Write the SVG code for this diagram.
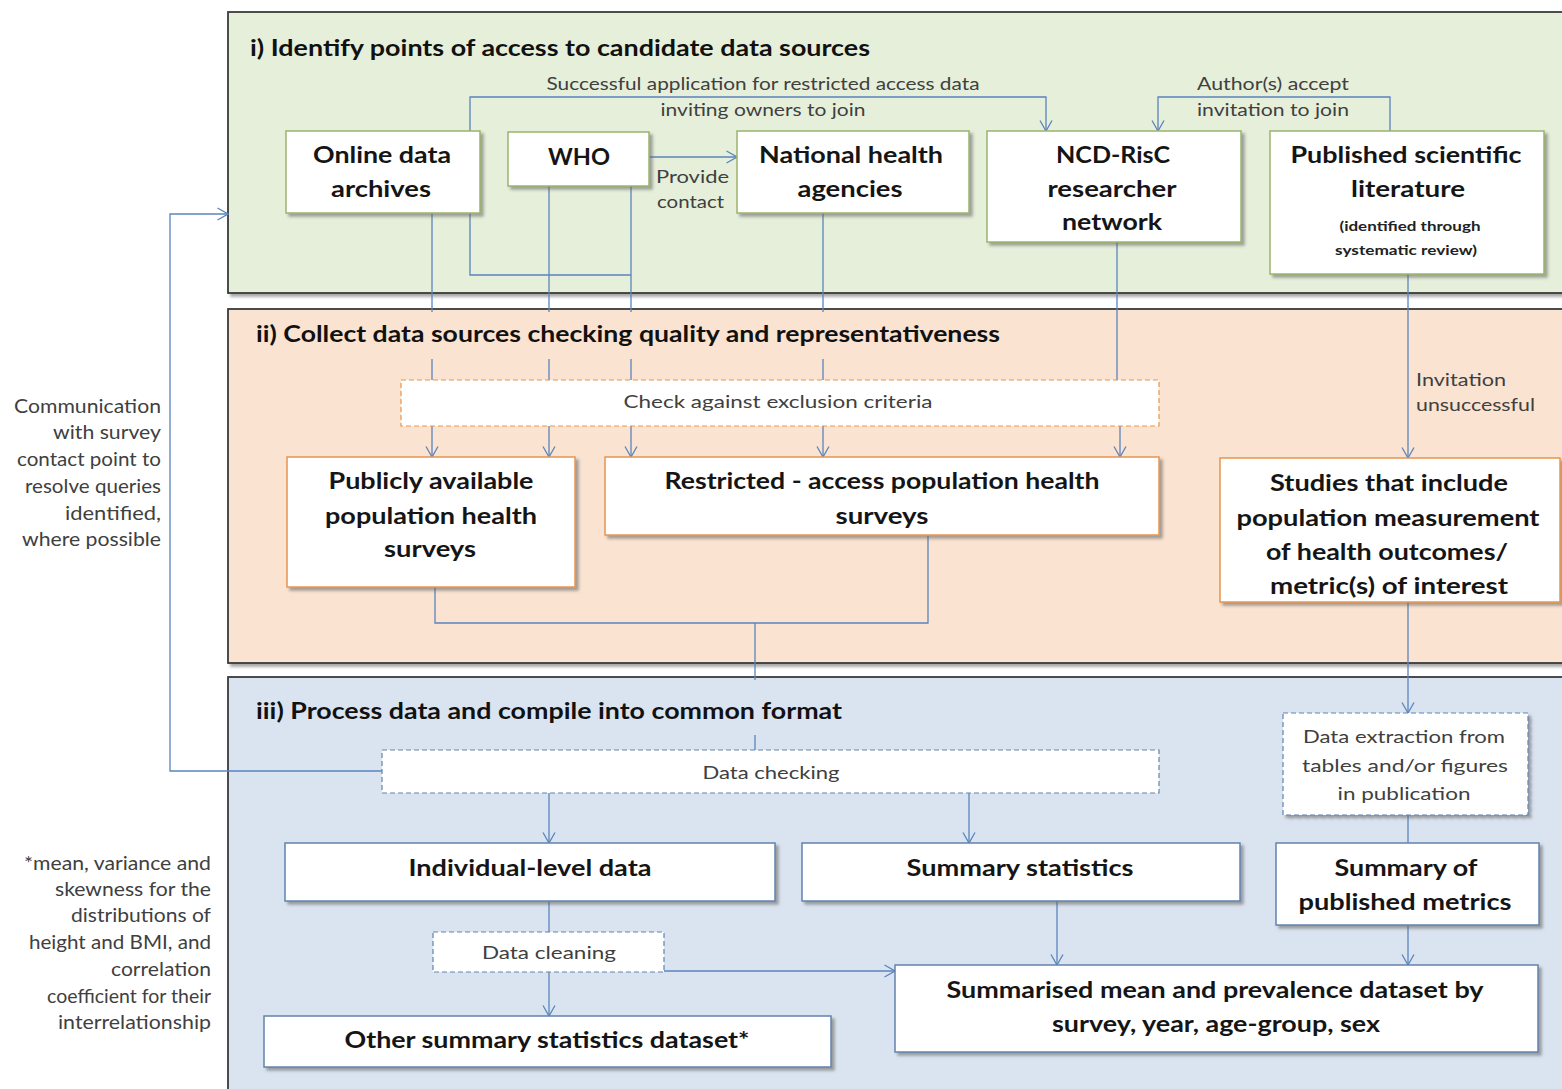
<svg xmlns="http://www.w3.org/2000/svg" width="1562" height="1089" viewBox="0 0 1562 1089">
<defs>
<filter id="sh" x="-10%" y="-10%" width="130%" height="140%">
<feDropShadow dx="3" dy="3" stdDeviation="1.8" flood-color="#606060" flood-opacity="0.55"/>
</filter>
<marker id="arr" viewBox="0 0 12 14" refX="11.5" refY="7" markerWidth="12" markerHeight="14" markerUnits="userSpaceOnUse" orient="auto">
<path d="M1,1 L11.5,7 L1,13" fill="none" stroke="#5b84bd" stroke-width="1.3"/>
</marker>
<style>
.panel{stroke:#3a3a3a;stroke-width:1.8}
.pg{fill:#e6efda}
.po{fill:#fae3d0}
.pb{fill:#dae4f0}
.n{fill:#ffffff;stroke-width:1.5;filter:url(#sh)}
.ng{stroke:#9ab46c}
.no{stroke:#e8954f}
.nb{stroke:#6383ad}
.d{fill:#ffffff;stroke-width:1.2;stroke-dasharray:5 3}
.c{fill:none;stroke:#5b84bd;stroke-width:1.3}
.ca{fill:none;stroke:#5b84bd;stroke-width:1.3;marker-end:url(#arr)}
text{font-family:Lato,"Liberation Sans",sans-serif}
.t{font-weight:bold;font-size:23px;fill:#111}
.b{font-weight:bold;font-size:23px;fill:#151515;text-anchor:middle}
.s{font-weight:bold;font-size:14px;fill:#222;text-anchor:middle}
.l{font-size:18px;fill:#404040}
.lm{font-size:18px;fill:#404040;text-anchor:middle}
.lr{font-size:19px;fill:#404040;text-anchor:end}
</style>
</defs>

<g id="panels">
<rect id="panel-i" class="panel pg" x="228" y="12" width="1340" height="281" filter="url(#sh)"/>
<rect id="panel-ii" class="panel po" x="228" y="309" width="1340" height="354" filter="url(#sh)"/>
<rect id="panel-iii" class="panel pb" x="228" y="677" width="1340" height="430" filter="url(#sh)"/>
</g>

<g id="connectors">
<path class="ca" d="M470,131 V97 H1046 V131"/>
<path class="ca" d="M1390,131 V97 H1158 V131"/>
<path class="ca" d="M649,157 H737"/>
<path class="c" d="M470,213 V275 H631"/>
<path class="c" d="M432,213 V380"/>
<path class="c" d="M549,186 V380"/>
<path class="c" d="M631,186 V380"/>
<path class="c" d="M823,213 V380"/>
<path class="c" d="M1117,242 V380"/>
<path class="ca" d="M1408,274 V458"/>
<path class="ca" d="M432,426 V457"/>
<path class="ca" d="M549,426 V457"/>
<path class="ca" d="M631,426 V457"/>
<path class="ca" d="M823,426 V457"/>
<path class="ca" d="M1120,426 V457"/>
<path class="c" d="M435,587 V623 H928 V535"/>
<path class="c" d="M755,623 V750"/>
<path class="ca" d="M1408,602 V713"/>
<path class="ca" d="M382,771 H170 V214 H228"/>
<path class="ca" d="M549,793 V843"/>
<path class="ca" d="M969,793 V843"/>
<path class="c" d="M1408,815 V843"/>
<path class="ca" d="M1057,901 V965"/>
<path class="ca" d="M1408,925 V965"/>
<path class="c" d="M549,901 V932"/>
<path class="ca" d="M549,972 V1016"/>
<path class="ca" d="M664,971 H895"/>
</g>

<g id="titles">
<text class="t" x="250" y="56" textLength="620" lengthAdjust="spacingAndGlyphs">i) Identify points of access to candidate data sources</text>
<rect class="po" x="250" y="312" width="756" height="47"/>
<text class="t" x="256" y="342" textLength="744" lengthAdjust="spacingAndGlyphs">ii) Collect data sources checking quality and representativeness</text>
<rect class="pb" x="250" y="680" width="600" height="55"/>
<text class="t" x="256" y="719" textLength="586" lengthAdjust="spacingAndGlyphs">iii) Process data and compile into common format</text>
</g>

<g id="labels">
<text class="lm" x="763" y="90" textLength="433" lengthAdjust="spacingAndGlyphs">Successful application for restricted access data</text>
<text class="lm" x="763" y="116" textLength="205" lengthAdjust="spacingAndGlyphs">inviting owners to join</text>
<text class="l" x="1197" y="90" textLength="152" lengthAdjust="spacingAndGlyphs">Author(s) accept</text>
<text class="l" x="1197" y="116" textLength="152" lengthAdjust="spacingAndGlyphs">invitation to join</text>
<text class="l" x="656" y="183" textLength="73" lengthAdjust="spacingAndGlyphs">Provide</text>
<text class="l" x="657" y="208" textLength="67" lengthAdjust="spacingAndGlyphs">contact</text>
<text class="l" x="1416" y="386" textLength="90" lengthAdjust="spacingAndGlyphs">Invitation</text>
<text class="l" x="1416" y="411" textLength="119" lengthAdjust="spacingAndGlyphs">unsuccessful</text>
<g id="comm-note">
<text class="lr" x="161" y="413" textLength="147" lengthAdjust="spacingAndGlyphs">Communication</text>
<text class="lr" x="161" y="439" textLength="108" lengthAdjust="spacingAndGlyphs">with survey</text>
<text class="lr" x="161" y="466" textLength="144" lengthAdjust="spacingAndGlyphs">contact point to</text>
<text class="lr" x="161" y="493" textLength="136" lengthAdjust="spacingAndGlyphs">resolve queries</text>
<text class="lr" x="161" y="520" textLength="96" lengthAdjust="spacingAndGlyphs">identified,</text>
<text class="lr" x="161" y="546" textLength="139" lengthAdjust="spacingAndGlyphs">where possible</text>
</g>
<g id="footnote">
<text class="lr" x="211" y="870" textLength="187" lengthAdjust="spacingAndGlyphs">*mean, variance and</text>
<text class="lr" x="211" y="896" textLength="156" lengthAdjust="spacingAndGlyphs">skewness for the</text>
<text class="lr" x="211" y="922" textLength="140" lengthAdjust="spacingAndGlyphs">distributions of</text>
<text class="lr" x="211" y="949" textLength="182" lengthAdjust="spacingAndGlyphs">height and BMI, and</text>
<text class="lr" x="211" y="976" textLength="100" lengthAdjust="spacingAndGlyphs">correlation</text>
<text class="lr" x="211" y="1003" textLength="164" lengthAdjust="spacingAndGlyphs">coefficient for their</text>
<text class="lr" x="211" y="1029" textLength="153" lengthAdjust="spacingAndGlyphs">interrelationship</text>
</g>
</g>

<g id="node-online">
<rect class="n ng" x="286" y="131" width="194" height="82"/>
<text class="b" x="382" y="163" textLength="138" lengthAdjust="spacingAndGlyphs">Online data</text>
<text class="b" x="381" y="197" textLength="100" lengthAdjust="spacingAndGlyphs">archives</text>
</g>
<g id="node-who">
<rect class="n ng" x="508" y="132" width="141" height="54"/>
<text class="b" x="579" y="165" textLength="62" lengthAdjust="spacingAndGlyphs">WHO</text>
</g>
<g id="node-national">
<rect class="n ng" x="737" y="131" width="232" height="82"/>
<text class="b" x="851" y="163" textLength="184" lengthAdjust="spacingAndGlyphs">National health</text>
<text class="b" x="850" y="197" textLength="105" lengthAdjust="spacingAndGlyphs">agencies</text>
</g>
<g id="node-ncd">
<rect class="n ng" x="987" y="131" width="254" height="111"/>
<text class="b" x="1113" y="163" textLength="114" lengthAdjust="spacingAndGlyphs">NCD-RisC</text>
<text class="b" x="1112" y="197" textLength="129" lengthAdjust="spacingAndGlyphs">researcher</text>
<text class="b" x="1112" y="230" textLength="100" lengthAdjust="spacingAndGlyphs">network</text>
</g>
<g id="node-published">
<rect class="n ng" x="1270" y="131" width="274" height="143"/>
<text class="b" x="1406" y="163" textLength="231" lengthAdjust="spacingAndGlyphs">Published scientific</text>
<text class="b" x="1408" y="197" textLength="114" lengthAdjust="spacingAndGlyphs">literature</text>
<text class="s" x="1410" y="231" textLength="141" lengthAdjust="spacingAndGlyphs">(identified through</text>
<text class="s" x="1406" y="255" textLength="142" lengthAdjust="spacingAndGlyphs">systematic review)</text>
</g>

<g id="node-check">
<rect class="d" x="401" y="380" width="758" height="46" stroke="#e8954f"/>
<text class="lm" x="778" y="408" font-size="20" textLength="309" lengthAdjust="spacingAndGlyphs">Check against exclusion criteria</text>
</g>
<g id="node-public">
<rect class="n no" x="287" y="457" width="288" height="130"/>
<text class="b" x="431" y="489" textLength="205" lengthAdjust="spacingAndGlyphs">Publicly available</text>
<text class="b" x="431" y="524" textLength="212" lengthAdjust="spacingAndGlyphs">population health</text>
<text class="b" x="430" y="557" textLength="92" lengthAdjust="spacingAndGlyphs">surveys</text>
</g>
<g id="node-restricted">
<rect class="n no" x="605" y="457" width="554" height="78"/>
<text class="b" x="882" y="489" textLength="435" lengthAdjust="spacingAndGlyphs">Restricted - access population health</text>
<text class="b" x="882" y="524" textLength="93" lengthAdjust="spacingAndGlyphs">surveys</text>
</g>
<g id="node-studies">
<rect class="n no" x="1220" y="458" width="340" height="144"/>
<text class="b" x="1389" y="491" textLength="238" lengthAdjust="spacingAndGlyphs">Studies that include</text>
<text class="b" x="1388" y="526" textLength="303" lengthAdjust="spacingAndGlyphs">population measurement</text>
<text class="b" x="1387" y="560" textLength="242" lengthAdjust="spacingAndGlyphs">of health outcomes/</text>
<text class="b" x="1389" y="594" textLength="238" lengthAdjust="spacingAndGlyphs">metric(s) of interest</text>
</g>

<g id="node-datachecking">
<rect class="d" x="382" y="750" width="777" height="43" stroke="#6383ad"/>
<text class="lm" x="771" y="779" font-size="20" textLength="137" lengthAdjust="spacingAndGlyphs">Data checking</text>
</g>
<g id="node-extraction">
<rect class="d" x="1283" y="713" width="245" height="102" stroke="#6383ad" filter="url(#sh)"/>
<text class="lm" x="1404" y="743" font-size="19" textLength="202" lengthAdjust="spacingAndGlyphs">Data extraction from</text>
<text class="lm" x="1405" y="772" font-size="19" textLength="206" lengthAdjust="spacingAndGlyphs">tables and/or figures</text>
<text class="lm" x="1404" y="800" font-size="19" textLength="133" lengthAdjust="spacingAndGlyphs">in publication</text>
</g>
<g id="node-individual">
<rect class="n nb" x="285" y="843" width="490" height="58"/>
<text class="b" x="530" y="876" textLength="243" lengthAdjust="spacingAndGlyphs">Individual-level data</text>
</g>
<g id="node-summarystats">
<rect class="n nb" x="802" y="843" width="438" height="58"/>
<text class="b" x="1020" y="876" textLength="227" lengthAdjust="spacingAndGlyphs">Summary statistics</text>
</g>
<g id="node-summarypub">
<rect class="n nb" x="1276" y="843" width="263" height="82"/>
<text class="b" x="1406" y="876" textLength="143" lengthAdjust="spacingAndGlyphs">Summary of</text>
<text class="b" x="1405" y="910" textLength="213" lengthAdjust="spacingAndGlyphs">published metrics</text>
</g>
<g id="node-cleaning">
<rect class="d" x="433" y="932" width="231" height="40" stroke="#6383ad"/>
<text class="lm" x="549" y="959" font-size="20" textLength="134" lengthAdjust="spacingAndGlyphs">Data cleaning</text>
</g>
<g id="node-summarised">
<rect class="n nb" x="895" y="965" width="643" height="87"/>
<text class="b" x="1215" y="998" textLength="537" lengthAdjust="spacingAndGlyphs">Summarised mean and prevalence dataset by</text>
<text class="b" x="1216" y="1032" textLength="328" lengthAdjust="spacingAndGlyphs">survey, year, age-group, sex</text>
</g>
<g id="node-other">
<rect class="n nb" x="264" y="1016" width="567" height="51"/>
<text class="b" x="547" y="1048" textLength="405" lengthAdjust="spacingAndGlyphs">Other summary statistics dataset*</text>
</g>
</svg>
